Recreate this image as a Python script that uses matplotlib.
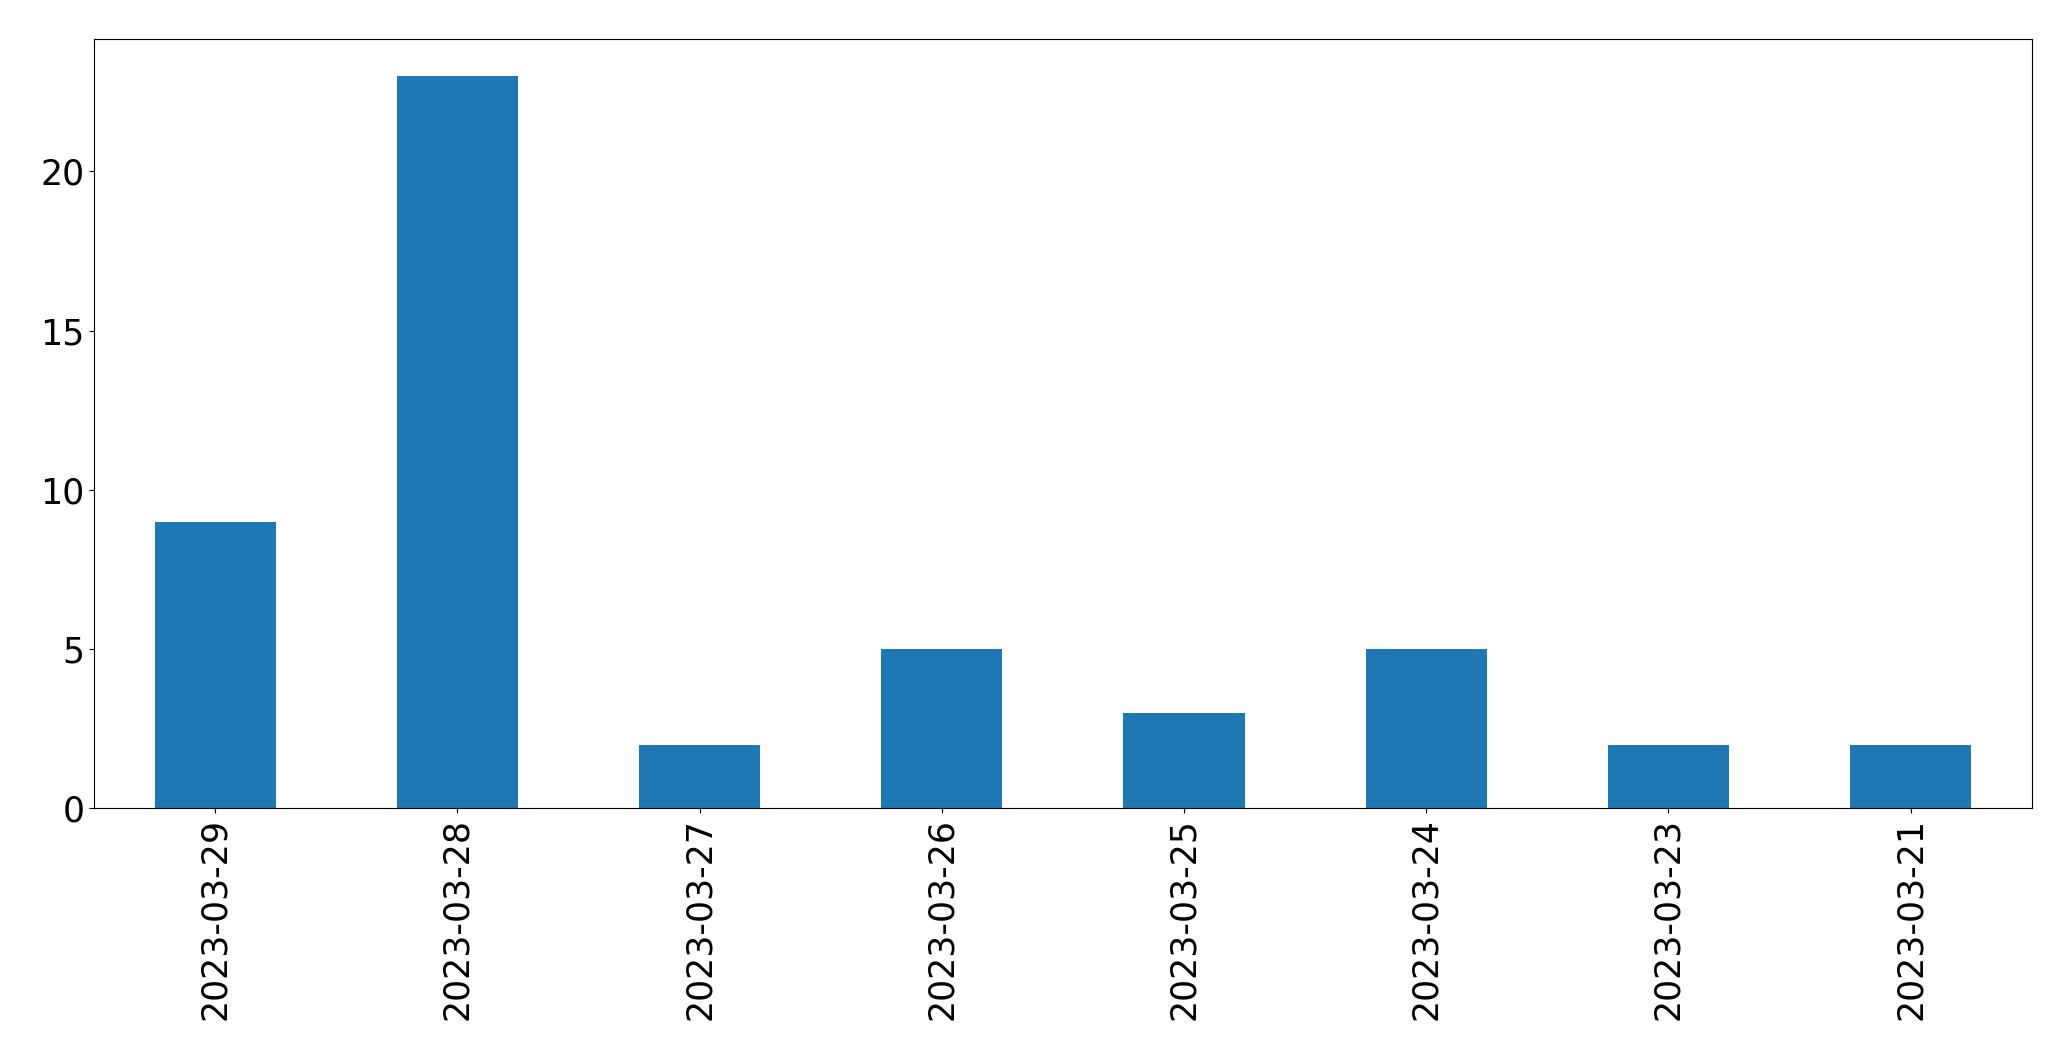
import matplotlib
matplotlib.use('Agg')
from matplotlib import pyplot as plt
import numpy as np

dates = ['2023-03-29', '2023-03-28', '2023-03-27', '2023-03-26',
         '2023-03-25', '2023-03-24', '2023-03-23', '2023-03-21']
counts = [9, 23, 2, 5, 3, 5, 2, 2]

fig, ax = plt.subplots(figsize=(20.71, 10.61), dpi=100)
x = np.arange(len(dates))
ax.bar(x, counts, width=0.5, color='#1f77b4')
ax.set_xticks(x)
ax.set_xticklabels(dates, rotation=90)
ax.set_xlim(-0.5, len(dates) - 0.5)
ax.set_ylim(0, max(counts) * 1.05)
ax.tick_params(axis='both', labelsize=25)
fig.subplots_adjust(left=0.0455, right=0.981, top=0.963, bottom=0.238)
fig.savefig('out.png')
